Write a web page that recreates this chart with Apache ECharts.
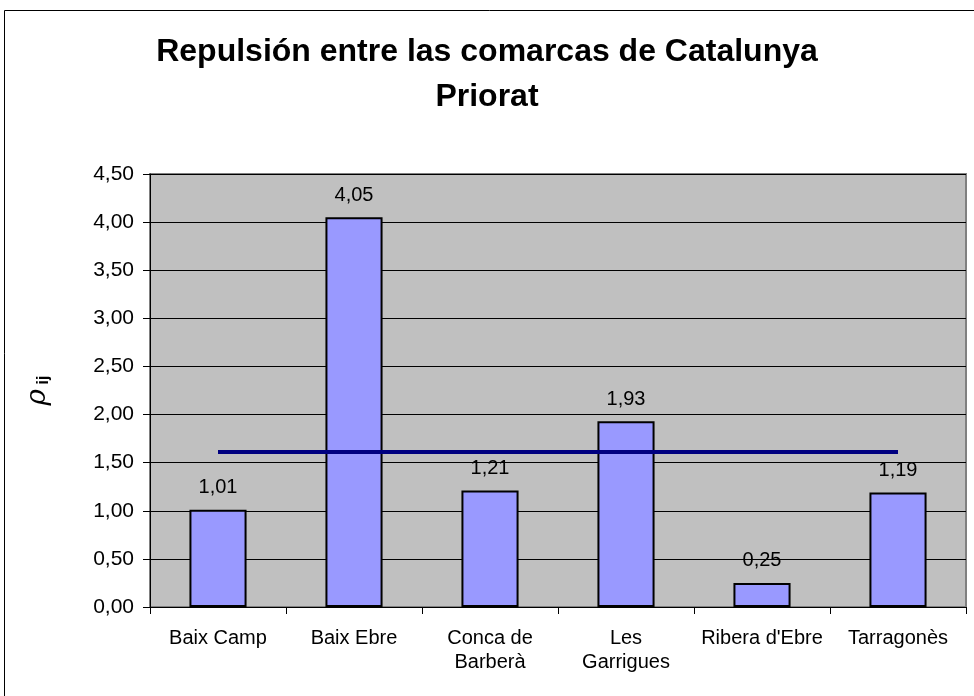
<!DOCTYPE html>
<html>
<head>
<meta charset="utf-8">
<script src="https://cdn.jsdelivr.net/npm/echarts@6/dist/echarts.min.js"></script>
<style>
  html, body { margin: 0; padding: 0; background: #fff; }
  #chart { width: 974px; height: 696px; }
</style>
</head>
<body>
<div id="chart"></div>
<script>
var comarcas = ['Baix Camp', 'Baix Ebre', 'Conca de\nBarberà', 'Les\nGarrigues', "Ribera d'Ebre", 'Tarragonès'];
var repulsion = [1.01, 4.05, 1.21, 1.93, 0.25, 1.19];
var media = [1.61, 1.61, 1.61, 1.61, 1.61, 1.61];
var yMin = 0, yMax = 4.5, yStep = 0.5;

function coma(v) {
    return Number(v).toFixed(2).replace('.', ',');
}

var chart = echarts.init(document.getElementById('chart'));
chart.setOption({
    backgroundColor: '#fff',
    animation: false,
    textStyle: { fontFamily: 'Liberation Sans, Arial, sans-serif' },
    title: {
        text: 'Repulsión entre las comarcas de Catalunya\nPriorat',
        left: 'center',
        top: 25,
        textStyle: {
            fontSize: 32,
            fontWeight: 'bold',
            color: '#000',
            lineHeight: 45,
            fontFamily: 'Liberation Sans, Arial, sans-serif'
        }
    },
    graphic: [{
        type: 'rect',
        shape: { x: 4.5, y: 10.5, width: 1000, height: 1000 },
        style: { fill: 'none', stroke: '#000', lineWidth: 1 },
        silent: true
    }],
    grid: {
        left: 150,
        right: 8,
        top: 174,
        bottom: 89,
        show: true,
        backgroundColor: '#C0C0C0',
        borderColor: '#808080',
        borderWidth: 2
    },
    xAxis: {
        type: 'category',
        data: comarcas,
        axisLine: { lineStyle: { color: '#000', width: 1 } },
        axisTick: { show: true, length: 7, alignWithLabel: false, lineStyle: { color: '#000' } },
        axisLabel: {
            color: '#000',
            fontSize: 20,
            lineHeight: 24,
            margin: 19,
            interval: 0
        }
    },
    yAxis: {
        type: 'value',
        min: yMin,
        max: yMax,
        interval: yStep,
        name: '{r|ρ}{s| ij}',
        nameLocation: 'middle',
        nameGap: 98,
        nameRotate: 90,
        nameTextStyle: {
            rich: {
                r: { fontSize: 28, fontStyle: 'italic', color: '#000', fontFamily: 'DejaVu Serif' },
                s: { fontSize: 16, fontWeight: 'bold', color: '#000', verticalAlign: 'bottom', padding: [12, 0, 0, 0] }
            }
        },
        axisLine: { show: true, lineStyle: { color: '#000', width: 1 } },
        axisTick: { show: true, length: 7, lineStyle: { color: '#000' } },
        axisLabel: {
            color: '#000',
            fontSize: 21,
            margin: 16,
            formatter: coma
        },
        splitLine: { show: true, lineStyle: { color: '#000', width: 1 } }
    },
    series: [{
        name: 'Repulsión',
        type: 'bar',
        data: repulsion,
        barWidth: '42%',
        itemStyle: {
            color: '#9999FF',
            borderColor: '#000',
            borderWidth: 2
        },
        label: {
            show: true,
            position: 'top',
            distance: 12,
            color: '#000',
            fontSize: 20,
            formatter: function (p) { return coma(p.value); }
        }
    }, {
        name: 'Media',
        type: 'line',
        data: media,
        symbol: 'none',
        lineStyle: { color: '#000080', width: 4 },
        z: 5
    }]
});
</script>
</body>
</html>
